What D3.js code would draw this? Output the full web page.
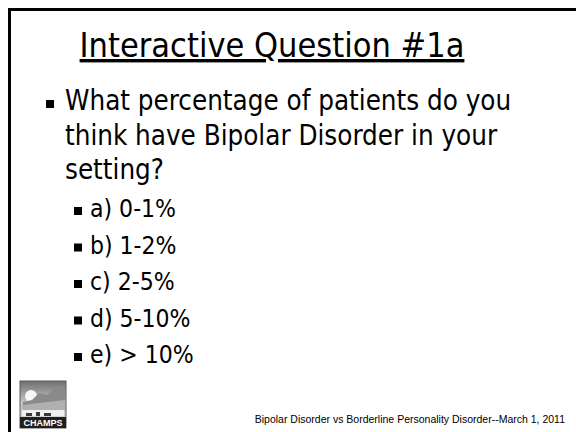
<!DOCTYPE html>
<html>
<head>
<meta charset="utf-8">
<script src="https://cdn.jsdelivr.net/npm/d3@7"></script>
<style>
  body { margin: 0; background: #fff; }
  svg { display: block; }
  .tahoma { font-family: 'DejaVu Sans Condensed', 'DejaVu Sans', sans-serif; font-stretch: condensed; }
</style>
</head>
<body>
<div id="slide"></div>
<script>
var W = 576, H = 432;

var titleText = "Interactive Question #1a";
var questionLines = ["What percentage of patients do you", "think have Bipolar Disorder in your", "setting?"];
var options = ["a) 0-1%", "b) 1-2%", "c) 2-5%", "d) 5-10%", "e) > 10%"];
var footerText = "Bipolar Disorder vs Borderline Personality Disorder--March 1, 2011";

var svg = d3.select("#slide").append("svg")
    .attr("width", W)
    .attr("height", H);

// frame: top and left edges only
svg.append("path")
    .attr("d", "M9.5," + H + "V9.5H" + W)
    .attr("fill", "none")
    .attr("stroke", "#000")
    .attr("stroke-width", 3);

// title
svg.append("text")
    .attr("class", "tahoma")
    .attr("x", 272)
    .attr("y", 57)
    .attr("text-anchor", "middle")
    .attr("font-size", 34)
    .attr("text-decoration", "underline")
    .text(titleText);

// question, first level bullet
var qY = d3.scaleLinear().domain([0, 1]).range([110, 144.5]);
svg.append("rect")
    .attr("x", 46).attr("y", 100)
    .attr("width", 8).attr("height", 8)
    .attr("fill", "#000");

svg.selectAll(".q").data(questionLines).enter().append("text")
    .attr("class", "q tahoma")
    .attr("x", 65)
    .attr("y", function (d, i) { return qY(i); })
    .attr("font-size", 27.5)
    .text(function (d) { return d; });

// answer options, second level
var oY = d3.scaleLinear().domain([0, 1]).range([217, 253.5]);
var opt = svg.selectAll(".opt").data(options).enter().append("g")
    .attr("class", "opt")
    .attr("transform", function (d, i) { return "translate(0," + oY(i) + ")"; });

opt.append("rect")
    .attr("x", 74).attr("y", -10)
    .attr("width", 8).attr("height", 8)
    .attr("fill", "#000");

opt.append("text")
    .attr("class", "tahoma")
    .attr("x", 90)
    .attr("font-size", 24.5)
    .text(function (d) { return d; });

// CHAMPS logo (greyscale landscape)
var defs = svg.append("defs");
var grad = defs.append("linearGradient")
    .attr("id", "sky").attr("x1", 0).attr("y1", 0).attr("x2", 0).attr("y2", 1);
grad.append("stop").attr("offset", 0).attr("stop-color", "#6f6f6f");
grad.append("stop").attr("offset", 0.45).attr("stop-color", "#c4c4c4");
grad.append("stop").attr("offset", 1).attr("stop-color", "#dcdcdc");

var logo = svg.append("g").attr("transform", "translate(20,381)");
logo.append("rect").attr("width", 46).attr("height", 47)
    .attr("fill", "url(#sky)").attr("stroke", "#5a5a5a");
logo.append("circle").attr("cx", 11).attr("cy", 15).attr("r", 6).attr("fill", "#f6f6f6");
logo.append("path")
    .attr("d", "M3,21 L12,19 L19,12 L27,14 L35,6 L45,4 L45,25 L3,25 Z")
    .attr("fill", "#8a8a8a");
logo.append("path")
    .attr("d", "M2,24 L45,19 L45,29 L2,29 Z")
    .attr("fill", "#b0b0b0");
logo.append("rect").attr("x", 2).attr("y", 29).attr("width", 42).attr("height", 6).attr("fill", "#f0f0f0");
logo.append("path")
    .attr("d", "M6,35 h6 v-3 h-6 Z M16,35 h4 v-4 h-4 Z M24,35 h7 v-3 h-7 Z")
    .attr("fill", "#3a3a3a");
logo.append("rect").attr("y", 36).attr("width", 46).attr("height", 11).attr("fill", "#1e1e1e");
logo.append("text")
    .attr("x", 23).attr("y", 45)
    .attr("text-anchor", "middle")
    .attr("font-family", "'Liberation Sans', Arial, sans-serif")
    .attr("font-weight", "bold")
    .attr("font-size", 9)
    .attr("fill", "#fff")
    .text("CHAMPS");

// footer
svg.append("text")
    .attr("x", 565)
    .attr("y", 423)
    .attr("text-anchor", "end")
    .attr("font-family", "'Liberation Sans', Arial, sans-serif")
    .attr("font-size", 10.5)
    .text(footerText);
</script>
</body>
</html>
